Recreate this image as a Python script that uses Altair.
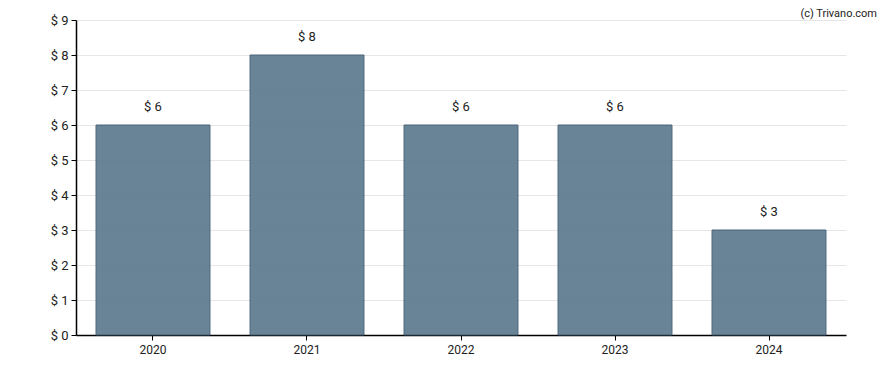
import altair as alt
import pandas as pd

years = ["2020", "2021", "2022", "2023", "2024"]
values = [6, 8, 6, 6, 3]
y_ticks = [0, 1, 2, 3, 4, 5, 6, 7, 8, 9]

df = pd.DataFrame({"year": years, "value": values})
df["label"] = ["$ " + str(v) for v in values]

x_enc = alt.X("year:N", sort=years, title=None,
              scale=alt.Scale(paddingInner=0.26, paddingOuter=0.13),
              axis=alt.Axis(labelAngle=0, labelFontSize=12, labelColor="#222222",
                            labelFont="Roboto", domainColor="#000000", tickColor="#000000",
                            tickSize=5, labelPadding=4, grid=False))
y_enc = alt.Y("value:Q", title=None,
              scale=alt.Scale(domain=[0, 9], nice=False),
              axis=alt.Axis(values=y_ticks, labelOverlap=False,
                            labelExpr="'$ ' + datum.value",
                            labelFontSize=13, labelColor="#222222", labelFont="Roboto",
                            domainColor="#000000", tickColor="#000000", tickSize=5,
                            gridColor="#e6e6e6", labelPadding=3))

base = alt.Chart(df)

bars = base.mark_bar(color="#5d7a8f", opacity=0.92, stroke="#3f5a70", strokeWidth=1).encode(
    x=x_enc, y=y_enc,
)

text = base.mark_text(dy=-18, fontSize=13, font="Roboto", color="#222222").encode(
    x=x_enc, y=y_enc, text="label:N",
)

credit = alt.Chart(pd.DataFrame({"t": ["(c) Trivano.com"]})).mark_text(
    align="right", baseline="top", fontSize=11, font="Roboto", color="#222222"
).encode(x=alt.value(801), y=alt.value(-12), text="t:N")

chart = (bars + text + credit).properties(
    width=770, height=315,
    autosize=alt.AutoSizeParams(type="none"),
    padding={"left": 68, "top": 12, "right": 32, "bottom": 27},
).configure_view(stroke=None).configure_axisY(domainWidth=1.5).configure_axisX(domainWidth=1.5)

chart.save("out.html", embed_options={"renderer": "svg", "actions": False})
